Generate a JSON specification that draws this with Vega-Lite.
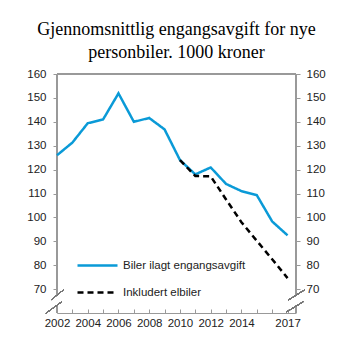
{
  "$schema": "https://vega.github.io/schema/vega-lite/v6.json",
  "width": 239,
  "height": 239,
  "autosize": {"type": "none"},
  "padding": {"left": 57, "top": 74, "right": 57, "bottom": 40},
  "title": {
    "text": ["Gjennomsnittlig engangsavgift for nye", "personbiler. 1000 kroner"],
    "font": "Liberation Serif",
    "fontSize": 18,
    "fontWeight": "normal",
    "color": "#000000",
    "lineHeight": 23,
    "anchor": "middle",
    "offset": 6
  },
  "config": {
    "view": {"stroke": null},
    "axis": {
      "labelFont": "Liberation Sans",
      "labelFontSize": 11.5,
      "labelColor": "#222222",
      "domainColor": "#999999",
      "tickColor": "#999999",
      "grid": false,
      "title": null
    }
  },
  "data": {
    "values": [
      {"year": 2002, "series": "Biler ilagt engangsavgift", "value": 126},
      {"year": 2003, "series": "Biler ilagt engangsavgift", "value": 131.3},
      {"year": 2004, "series": "Biler ilagt engangsavgift", "value": 139.4},
      {"year": 2005, "series": "Biler ilagt engangsavgift", "value": 141},
      {"year": 2006, "series": "Biler ilagt engangsavgift", "value": 151.9},
      {"year": 2007, "series": "Biler ilagt engangsavgift", "value": 140},
      {"year": 2008, "series": "Biler ilagt engangsavgift", "value": 141.6},
      {"year": 2009, "series": "Biler ilagt engangsavgift", "value": 136.8},
      {"year": 2010, "series": "Biler ilagt engangsavgift", "value": 124},
      {"year": 2011, "series": "Biler ilagt engangsavgift", "value": 118},
      {"year": 2012, "series": "Biler ilagt engangsavgift", "value": 120.9},
      {"year": 2013, "series": "Biler ilagt engangsavgift", "value": 114},
      {"year": 2014, "series": "Biler ilagt engangsavgift", "value": 111},
      {"year": 2015, "series": "Biler ilagt engangsavgift", "value": 109.3},
      {"year": 2016, "series": "Biler ilagt engangsavgift", "value": 98.3},
      {"year": 2017, "series": "Biler ilagt engangsavgift", "value": 92.5},
      {"year": 2010, "series": "Inkludert elbiler", "value": 124},
      {"year": 2011, "series": "Inkludert elbiler", "value": 117.3},
      {"year": 2012, "series": "Inkludert elbiler", "value": 117.2},
      {"year": 2013, "series": "Inkludert elbiler", "value": 107.5},
      {"year": 2014, "series": "Inkludert elbiler", "value": 98},
      {"year": 2015, "series": "Inkludert elbiler", "value": 90.2},
      {"year": 2016, "series": "Inkludert elbiler", "value": 82.5},
      {"year": 2017, "series": "Inkludert elbiler", "value": 74.6}
    ]
  },
  "encoding": {
    "x": {
      "field": "year",
      "type": "quantitative",
      "scale": {"domain": [2002, 2017.55], "nice": false, "zero": false},
      "axis": {
        "values": [2002, 2003, 2004, 2005, 2006, 2007, 2008, 2009, 2010, 2011, 2012, 2013, 2014, 2015, 2016, 2017],
        "labelExpr": "indexof([2002, 2004, 2006, 2008, 2010, 2012, 2014, 2017], datum.value) >= 0 ? datum.value : ''",
        "tickSize": -4,
        "labelPadding": 8,
        "labelFlush": false,
        "labelOverlap": false
      }
    }
  },
  "layer": [
    {
      "mark": {"type": "rule", "color": "#999999", "strokeWidth": 1, "clip": false},
      "encoding": {"x": {"datum": 2002}, "x2": {"datum": 2017.55}, "y": {"datum": 160, "axis": null}}
    },
    {
      "mark": {"type": "rule", "color": "#999999", "strokeWidth": 1, "clip": false},
      "encoding": {"x": {"datum": 2002}, "y": {"datum": 67.5, "axis": null}, "y2": {"datum": 160}}
    },
    {
      "mark": {"type": "rule", "color": "#999999", "strokeWidth": 1, "clip": false},
      "encoding": {"x": {"datum": 2002}, "y": {"datum": 60, "axis": null}, "y2": {"datum": 63.2}}
    },
    {
      "mark": {"type": "rule", "color": "#999999", "strokeWidth": 1, "clip": false},
      "encoding": {"x": {"datum": 2017.55}, "y": {"datum": 67.6, "axis": null}, "y2": {"datum": 160}}
    },
    {
      "mark": {"type": "rule", "color": "#999999", "strokeWidth": 1, "clip": false},
      "encoding": {"x": {"datum": 2017.55}, "y": {"datum": 60, "axis": null}, "y2": {"datum": 63.1}}
    },
    {
      "mark": {"type": "rule", "color": "#777777", "strokeWidth": 1, "clip": false},
      "encoding": {"x": {"datum": 2001.66}, "x2": {"datum": 2002.41}, "y": {"datum": 65.7, "axis": null}, "y2": {"datum": 69.6}}
    },
    {
      "mark": {"type": "rule", "color": "#777777", "strokeWidth": 1, "clip": false},
      "encoding": {"x": {"datum": 2001.28}, "x2": {"datum": 2002.31}, "y": {"datum": 59.9, "axis": null}, "y2": {"datum": 64.7}}
    },
    {
      "mark": {"type": "rule", "color": "#777777", "strokeWidth": 1, "clip": false},
      "encoding": {"x": {"datum": 2017.05}, "x2": {"datum": 2018.09}, "y": {"datum": 65.4, "axis": null}, "y2": {"datum": 69.6}}
    },
    {
      "mark": {"type": "rule", "color": "#777777", "strokeWidth": 1, "clip": false},
      "encoding": {"x": {"datum": 2016.95}, "x2": {"datum": 2018.02}, "y": {"datum": 60.5, "axis": null}, "y2": {"datum": 64.7}}
    },
    {
      "mark": {"type": "line", "strokeWidth": 2.5, "clip": false},
      "encoding": {
        "y": {
          "field": "value",
          "type": "quantitative",
          "scale": {"domain": [60, 160], "nice": false, "zero": false},
          "axis": {
            "orient": "left",
            "domain": false,
            "values": [70, 80, 90, 100, 110, 120, 130, 140, 150, 160],
            "tickSize": 4,
            "labelPadding": 7
          }
        },
        "color": {
          "field": "series",
          "type": "nominal",
          "scale": {"domain": ["Biler ilagt engangsavgift", "Inkludert elbiler"], "range": ["#0a9ad7", "#000000"]},
          "legend": {
            "title": null,
            "orient": "none",
            "legendX": 19,
            "legendY": 170,
            "symbolType": "stroke",
            "symbolSize": 1600,
            "symbolStrokeWidth": 2.5,
            "labelFont": "Liberation Sans",
            "labelFontSize": 11.5,
            "labelColor": "#222222",
            "labelOffset": 4,
            "rowPadding": -9
          }
        },
        "strokeDash": {
          "field": "series",
          "type": "nominal",
          "scale": {"domain": ["Biler ilagt engangsavgift", "Inkludert elbiler"], "range": [[1, 0], [6, 4]]},
          "legend": null
        }
      }
    },
    {
      "mark": {"type": "line", "opacity": 0},
      "encoding": {
        "y": {
          "field": "value",
          "type": "quantitative",
          "scale": {"domain": [60, 160], "nice": false, "zero": false},
          "axis": {
            "orient": "right",
            "domain": false,
            "values": [70, 80, 90, 100, 110, 120, 130, 140, 150, 160],
            "tickSize": 4,
            "labelPadding": 6
          }
        },
        "detail": {"field": "series", "type": "nominal"}
      }
    }
  ],
  "resolve": {"scale": {"y": "shared"}, "axis": {"y": "independent"}}
}
